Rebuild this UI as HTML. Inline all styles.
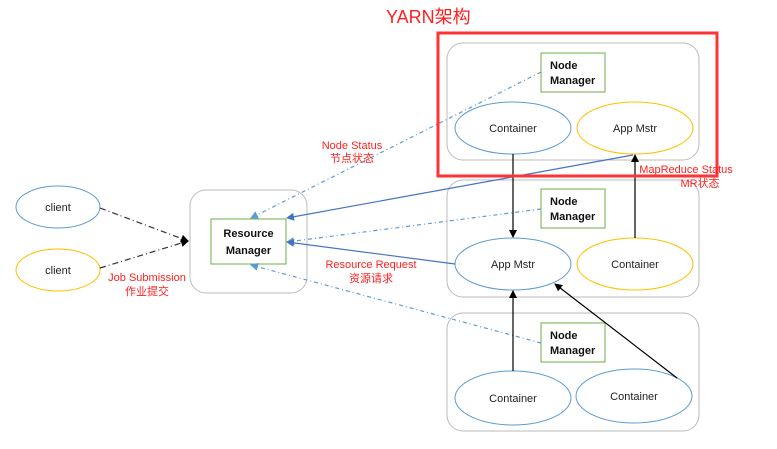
<!DOCTYPE html>
<html><head><meta charset="utf-8"><style>
html,body{margin:0;padding:0;background:#fff;}
svg{display:block;font-family:"Liberation Sans","Noto Sans CJK SC",sans-serif;}
.t{font-size:11px;fill:#222;}
.b{font-size:11px;font-weight:bold;fill:#111;}
.r{font-size:11px;fill:#ff2020;}
</style></head><body>
<svg width="777" height="449" viewBox="0 0 777 449">
<defs>
<marker id="ab" markerWidth="8" markerHeight="8" refX="7" refY="4" orient="auto" markerUnits="userSpaceOnUse"><path d="M0,0 L8,4 L0,8z" fill="#4472c4"/></marker>
<marker id="ab2" markerWidth="8" markerHeight="8" refX="7" refY="4" orient="auto" markerUnits="userSpaceOnUse"><path d="M0,0 L8,4 L0,8z" fill="#5b9bd5"/></marker>
<marker id="ak" markerWidth="8" markerHeight="8" refX="7" refY="4" orient="auto" markerUnits="userSpaceOnUse"><path d="M0,0 L8,4 L0,8z" fill="#000"/></marker>
</defs>
<text x="386" y="23" font-size="18" fill="#ff2020">YARN架构</text>
<!-- node boxes -->
<rect x="447" y="43" width="252" height="117" rx="16" fill="none" stroke="#bbb"/>
<rect x="447" y="180" width="252" height="117" rx="16" fill="none" stroke="#bbb"/>
<rect x="447" y="313" width="252" height="118" rx="16" fill="none" stroke="#bbb"/>
<rect x="190" y="190" width="117" height="103" rx="16" fill="none" stroke="#bbb"/>
<!-- NM boxes -->
<rect x="541" y="53" width="64" height="39" fill="#fff" stroke="#70ad47"/>
<text x="550" y="69" class="b">Node</text><text x="550" y="84" class="b">Manager</text>
<rect x="541" y="189" width="64" height="39" fill="#fff" stroke="#70ad47"/>
<text x="550" y="205" class="b">Node</text><text x="550" y="220" class="b">Manager</text>
<rect x="541" y="323" width="64" height="39" fill="#fff" stroke="#70ad47"/>
<text x="550" y="339" class="b">Node</text><text x="550" y="354" class="b">Manager</text>
<rect x="211" y="219" width="75" height="45" fill="#fff" stroke="#70ad47"/>
<text x="248.5" y="237" class="b" text-anchor="middle">Resource</text>
<text x="248.5" y="254" class="b" text-anchor="middle">Manager</text>
<!-- ellipses -->
<ellipse cx="513" cy="128" rx="58" ry="26" fill="#fff" stroke="#5b9bd5"/>
<text x="513" y="132" class="t" text-anchor="middle">Container</text>
<ellipse cx="635" cy="128" rx="58" ry="26" fill="#fff" stroke="#ffc000"/>
<text x="635" y="132" class="t" text-anchor="middle">App Mstr</text>
<ellipse cx="513" cy="264" rx="58" ry="26" fill="#fff" stroke="#5b9bd5"/>
<text x="513" y="268" class="t" text-anchor="middle">App Mstr</text>
<ellipse cx="635" cy="264" rx="58" ry="26" fill="#fff" stroke="#ffc000"/>
<text x="635" y="268" class="t" text-anchor="middle">Container</text>
<ellipse cx="513" cy="398" rx="58" ry="27" fill="#fff" stroke="#5b9bd5"/>
<text x="513" y="402" class="t" text-anchor="middle">Container</text>
<ellipse cx="634" cy="396" rx="58" ry="27" fill="#fff" stroke="#5b9bd5"/>
<text x="634" y="400" class="t" text-anchor="middle">Container</text>
<ellipse cx="58" cy="207" rx="42" ry="21" fill="#fff" stroke="#5b9bd5"/>
<text x="58" y="211" class="t" text-anchor="middle">client</text>
<ellipse cx="58" cy="270" rx="42" ry="21" fill="#fff" stroke="#ffc000"/>
<text x="58" y="274" class="t" text-anchor="middle">client</text>
<!-- connectors -->
<g fill="none" stroke-width="1.2">
<line x1="100" y1="208" x2="188" y2="241" stroke="#333" stroke-dasharray="6,3,1,3" marker-end="url(#ak)"/>
<line x1="100" y1="268" x2="188" y2="241" stroke="#333" stroke-dasharray="6,3,1,3" marker-end="url(#ak)"/>
<line x1="541" y1="72" x2="251" y2="218" stroke="#5b9bd5" stroke-dasharray="4,3,1,3" marker-end="url(#ab2)"/>
<line x1="541" y1="209" x2="287" y2="242" stroke="#5b9bd5" stroke-dasharray="4,3,1,3" marker-end="url(#ab2)"/>
<line x1="541" y1="343" x2="251" y2="265" stroke="#5b9bd5" stroke-dasharray="4,3,1,3" marker-end="url(#ab2)"/>
<line x1="633" y1="155" x2="287" y2="218" stroke="#4472c4" marker-end="url(#ab)"/>
<line x1="455" y1="264" x2="287" y2="242" stroke="#4472c4" marker-end="url(#ab)"/>
<line x1="513" y1="154" x2="513" y2="237" stroke="#000" marker-end="url(#ak)"/>
<line x1="635" y1="238" x2="635" y2="155" stroke="#000" marker-end="url(#ak)"/>
<line x1="513" y1="371" x2="513" y2="291" stroke="#000" marker-end="url(#ak)"/>
<line x1="677" y1="378" x2="555" y2="284" stroke="#000" marker-end="url(#ak)"/>
</g>
<rect x="438" y="33" width="279" height="143" fill="none" stroke="#ff3333" stroke-width="3"/>
<!-- labels -->
<text x="352" y="149" class="r" text-anchor="middle">Node Status</text>
<text x="352" y="162" class="r" text-anchor="middle">节点状态</text>
<text x="686" y="173" class="r" text-anchor="middle">MapReduce Status</text>
<text x="700" y="187" class="r" text-anchor="middle">MR状态</text>
<text x="371" y="268" class="r" text-anchor="middle">Resource Request</text>
<text x="371" y="282" class="r" text-anchor="middle">资源请求</text>
<text x="147" y="281" class="r" text-anchor="middle">Job Submission</text>
<text x="147" y="295" class="r" text-anchor="middle">作业提交</text>
</svg>
</body></html>
